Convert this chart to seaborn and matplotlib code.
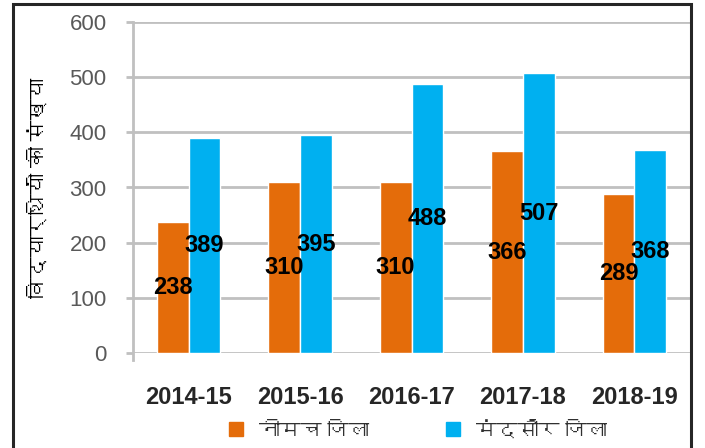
import matplotlib
matplotlib.use("Agg")
import matplotlib.pyplot as plt
from matplotlib import font_manager as fm
from matplotlib.ft2font import FT2Font
from matplotlib.lines import Line2D
import seaborn as sns
import pandas as pd

# Data
years = ["2014-15", "2015-16", "2016-17", "2017-18", "2018-19"]
neemuch = [238, 310, 310, 366, 289]
mandsaur = [389, 395, 488, 507, 368]
series_names = ["नीमच जिला", "मंदसौर जिला"]
y_label = "विद्यार्थियों की संख्या"
y_ticks = [0, 100, 200, 300, 400, 500, 600]

colors = ["#E46C0A", "#00B0F0"]

df = pd.DataFrame({
    "year": years * 2,
    "value": neemuch + mandsaur,
    "district": [series_names[0]] * len(years) + [series_names[1]] * len(years),
})

sns.set_theme(style="white")

# pick a font that can draw Devanagari, if one is installed
deva_family = None
for f in fm.fontManager.ttflist:
    try:
        cmap = FT2Font(f.fname).get_charmap()
    except Exception:
        continue
    if 0x0928 in cmap and 0x093F in cmap:
        deva_family = f.name
        break
families = ["Liberation Sans", "DejaVu Sans"]
if deva_family:
    families = ["Liberation Sans", deva_family, "DejaVu Sans"]
plt.rcParams["font.family"] = families

fig = plt.figure(figsize=(7.05, 4.48), dpi=100)
ax = fig.add_axes([133 / 705, 1 - 353 / 448, (690 - 133) / 705, (353 - 22) / 448])

sns.barplot(data=df, x="year", y="value", hue="district", palette=colors,
            width=0.57, gap=0, dodge=True, saturation=1, ax=ax, legend=False,
            zorder=3)

for cont in ax.containers:
    ax.bar_label(cont, label_type="center", fontsize=17, fontweight="bold",
                 color="black")

ax.set_ylim(0, 600)
ax.set_xlim(-0.5, 4.5)
ax.set_yticks(y_ticks)
ax.yaxis.grid(True, color="#c0c0c0", linewidth=2)
ax.set_axisbelow(True)
for s in ["top", "right", "bottom"]:
    ax.spines[s].set_visible(False)
ax.spines["left"].set_color("#c0c0c0")
ax.spines["left"].set_linewidth(2)
ax.spines["left"].set_bounds(-13, 600)
ax.tick_params(axis="y", length=5, width=2, color="#c0c0c0", pad=14,
               labelsize=16, labelcolor="#595959", left=True)
ax.tick_params(axis="x", length=0, pad=24, labelsize=17)
for t in ax.get_xticklabels():
    t.set_fontweight("bold")
ax.set_xlabel("")
ax.set_ylabel(y_label, fontsize=15, color="black")
ax.yaxis.set_label_coords(-0.152, 0.5)

handles = [Line2D([], [], marker="s", linestyle="", markersize=10,
                  markerfacecolor=c, markeredgecolor=c) for c in colors]
fig.legend(handles, series_names, loc="center", ncol=2,
           bbox_to_anchor=(411 / 705, 1 - 431 / 448), frameon=False,
           fontsize=15, handletextpad=0.1, columnspacing=3.0,
           labelcolor="#303030")

# outer chart frame
frame = plt.Rectangle((13 / 705, -0.1), (691 - 13) / 705, 1.1 - 4 / 448,
                      transform=fig.transFigure, fill=False,
                      edgecolor="#262626", linewidth=2.2)
fig.add_artist(frame)

fig.savefig("out.png", dpi=100)
